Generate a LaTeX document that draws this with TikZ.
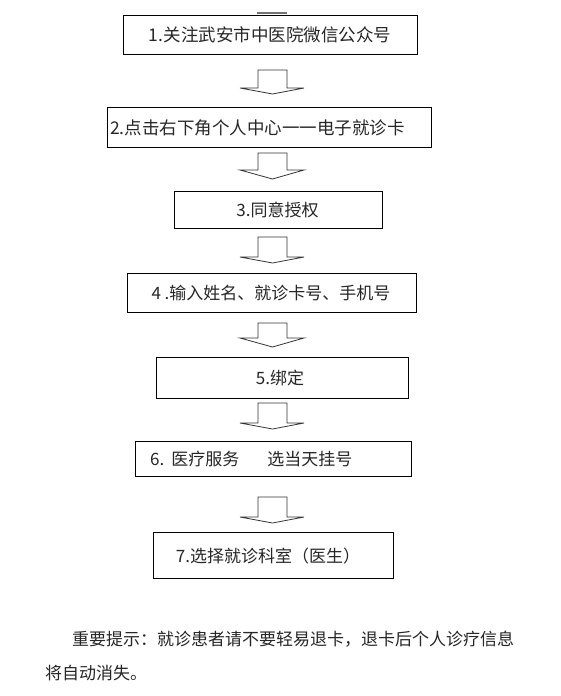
\documentclass[tikz,border=0pt]{standalone}
\usepackage{fontspec}
\newfontfamily\cjk{Noto Sans CJK SC}
\newcommand\blockarrow[3]{%
  \draw[arr] (258,#1) -- (258,#2) -- (240,#2) -- (272.5,#3) -- (304,#2) -- (287,#2) -- (287,#1) -- cycle;}
\begin{document}
\begin{tikzpicture}[x=1pt,y=-1pt,
  box/.style={draw=black, line width=0.9pt, inner sep=0pt},
  lab/.style={font=\cjk\fontsize{17}{20}\selectfont, text=black!85, inner sep=0pt},
  arr/.style={draw=black!80, line width=0.8pt, line join=miter},
  note/.style={font=\cjk\fontsize{17}{20}\selectfont, text=black!85, inner sep=0pt, anchor=west}]
\fill[white] (0,0) rectangle (561,696);
\useasboundingbox (0,0) rectangle (561,696);
% remnant at top
\draw[black!55, line width=1.4pt] (257,13) -- (287,13);
% boxes
\node[box, minimum width=294pt, minimum height=39pt] (b1) at (270,34.5) {};
\node[box, minimum width=324pt, minimum height=40pt] (b2) at (269,127) {};
\node[box, minimum width=208pt, minimum height=37pt] (b3) at (278,209.5) {};
\node[box, minimum width=289pt, minimum height=39pt] (b4) at (271.5,292.5) {};
\node[box, minimum width=252pt, minimum height=41pt] (b5) at (282,377.5) {};
\node[box, minimum width=276pt, minimum height=35pt] (b6) at (273,458.5) {};
\node[box, minimum width=240pt, minimum height=46pt] (b7) at (273,555) {};
% labels
\node[lab, font=\cjk\fontsize{17.5}{20}\selectfont] (t1) at (270,35) {1.关注武安市中医院微信公众号};
\node[lab, font=\cjk\fontsize{17.5}{20}\selectfont] (t2) at (257.5,128) {2.点击右下角个人中心一一电子就诊卡};
\node[lab] (t3) at (277.5,210) {3.同意授权};
\node[lab] (t4) at (271,293) {4 .输入姓名、就诊卡号、手机号};
\node[lab] (t5) at (280,378) {5.绑定};
\node[lab, anchor=west] (t6) at (150,459) {6.\hspace{7pt}医疗服务\hspace{28pt}选当天挂号};
\node[lab] (t7) at (268,556) {7.选择就诊科室（医生）};
% arrows
\blockarrow{70}{88}{94}
\blockarrow{153}{170}{179}
\blockarrow{237}{257}{263}
\blockarrow{323}{338}{347}
\blockarrow{403}{423}{429}
\blockarrow{497}{517}{523}
% note
\node[note] (n1) at (72,639) {重要提示：就诊患者请不要轻易退卡，退卡后个人诊疗信息};
\node[note] (n2) at (45,673) {将自动消失。};
\end{tikzpicture}
\end{document}
